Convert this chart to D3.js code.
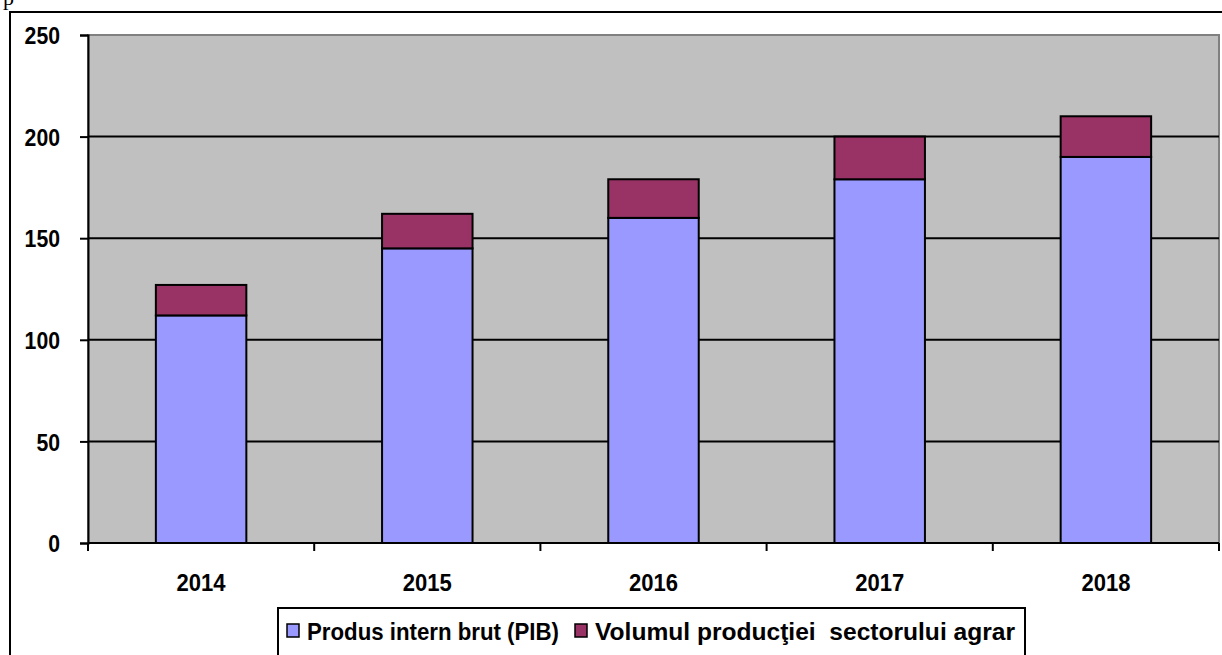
<!DOCTYPE html>
<html>
<head>
<meta charset="utf-8">
<script src="https://cdn.jsdelivr.net/npm/d3@7"></script>
<style>
  body { margin: 0; background: #fff; }
  svg { display: block; font-family: "Liberation Sans", Arial, sans-serif; font-weight: bold; }
</style>
</head>
<body>
<script>
// data
var years = ["2014", "2015", "2016", "2017", "2018"]
var pib = [112, 145, 160, 179, 190]
var agrar = [15, 17, 19, 21, 20]
var seriesNames = ["Produs intern brut (PIB)", "Volumul producţiei  sectorului agrar"]
var seriesColors = ["#9999ff", "#993366"]
var yTicks = [0, 50, 100, 150, 200, 250]

var width = 1222, height = 655
var plot = {left: 88, top: 35, right: 1219, bottom: 543}

var svg = d3.select("body").append("svg").attr("width", width).attr("height", height)

// stray letter from the page above
svg.append("text").attr("x", 3).attr("y", 5)
  .style("font-family", "'Liberation Serif', serif").style("font-weight", "normal")
  .style("font-size", "22px").text("p")

// outer chart frame
svg.append("rect").attr("x", 10).attr("y", 12).attr("width", 1230).attr("height", 700)
  .attr("fill", "#fff").attr("stroke", "#000").attr("stroke-width", 2)

var x = d3.scaleBand().domain(years).range([plot.left, plot.right]).paddingInner(0.6).paddingOuter(0.3)
var xCat = d3.scaleBand().domain(years).range([plot.left, plot.right])
var y = d3.scaleLinear().domain([0, 250]).range([plot.bottom, plot.top])

// plot background
svg.append("rect").attr("x", plot.left).attr("y", plot.top)
  .attr("width", plot.right - plot.left).attr("height", plot.bottom - plot.top)
  .attr("fill", "#c0c0c0").attr("stroke", "#808080").attr("stroke-width", 2)

// gridlines
svg.append("g").selectAll("line").data(yTicks.filter(d => d > 0 && d < 250)).enter()
  .append("line")
  .attr("x1", plot.left).attr("x2", plot.right)
  .attr("y1", d => y(d)).attr("y2", d => y(d))
  .attr("stroke", "#000").attr("stroke-width", 2)

// stacked bars
var rows = years.map((yr, i) => ({year: yr, pib: pib[i], agrar: agrar[i]}))
var stack = d3.stack().keys(["pib", "agrar"])(rows)

svg.append("g").selectAll("g").data(stack).enter().append("g")
  .attr("fill", (d, i) => seriesColors[i])
  .selectAll("rect").data(d => d).enter().append("rect")
  .attr("x", d => x(d.data.year))
  .attr("width", x.bandwidth())
  .attr("y", d => y(d[1]))
  .attr("height", d => y(d[0]) - y(d[1]))
  .attr("stroke", "#000").attr("stroke-width", 2)

// y axis
var yAxis = svg.append("g").attr("transform", "translate(" + plot.left + ",0)")
  .call(d3.axisLeft(y).tickValues(yTicks).tickSize(8).tickPadding(20))
yAxis.select(".domain").attr("stroke-width", 2)
yAxis.selectAll(".tick line").attr("stroke-width", 2)
yAxis.selectAll("text").style("font-size", "24px").style("font-family", "'Liberation Sans', Arial, sans-serif")
  .style("font-weight", "bold").attr("fill", "#000").attr("dy", "0.36em")
  .attr("textLength", d => String(d).length * 11.8).attr("lengthAdjust", "spacingAndGlyphs")

// x axis: ticks between categories
var bounds = years.map(d => xCat(d)).concat([plot.right])
var xg = svg.append("g")
xg.append("line").attr("x1", plot.left).attr("x2", plot.right)
  .attr("y1", plot.bottom).attr("y2", plot.bottom).attr("stroke", "#000").attr("stroke-width", 2)
xg.selectAll(".tk").data(bounds).enter().append("line")
  .attr("x1", d => d).attr("x2", d => d)
  .attr("y1", plot.bottom).attr("y2", plot.bottom + 8)
  .attr("stroke", "#000").attr("stroke-width", 2)
xg.selectAll("text").data(years).enter().append("text")
  .attr("x", d => xCat(d) + xCat.bandwidth() / 2)
  .attr("y", 591)
  .attr("text-anchor", "middle")
  .style("font-size", "24px")
  .attr("textLength", 49).attr("lengthAdjust", "spacingAndGlyphs")
  .text(d => d)

// legend
var lg = svg.append("g")
lg.append("rect").attr("x", 278).attr("y", 608).attr("width", 747).attr("height", 60)
  .attr("fill", "#fff").attr("stroke", "#000").attr("stroke-width", 2)
var legendX = [287, 575]
var legendW = [252, 420]
seriesNames.forEach(function(name, i) {
  lg.append("rect").attr("x", legendX[i]).attr("y", 624).attr("width", 12).attr("height", 13)
    .attr("fill", seriesColors[i]).attr("stroke", "#000").attr("stroke-width", 1.5)
  lg.append("text").attr("x", legendX[i] + 20).attr("y", 640)
    .attr("xml:space", "preserve").style("white-space", "pre")
    .attr("textLength", legendW[i]).attr("lengthAdjust", "spacingAndGlyphs")
    .style("font-size", "24px")
    .text(name)
})
</script>
</body>
</html>
